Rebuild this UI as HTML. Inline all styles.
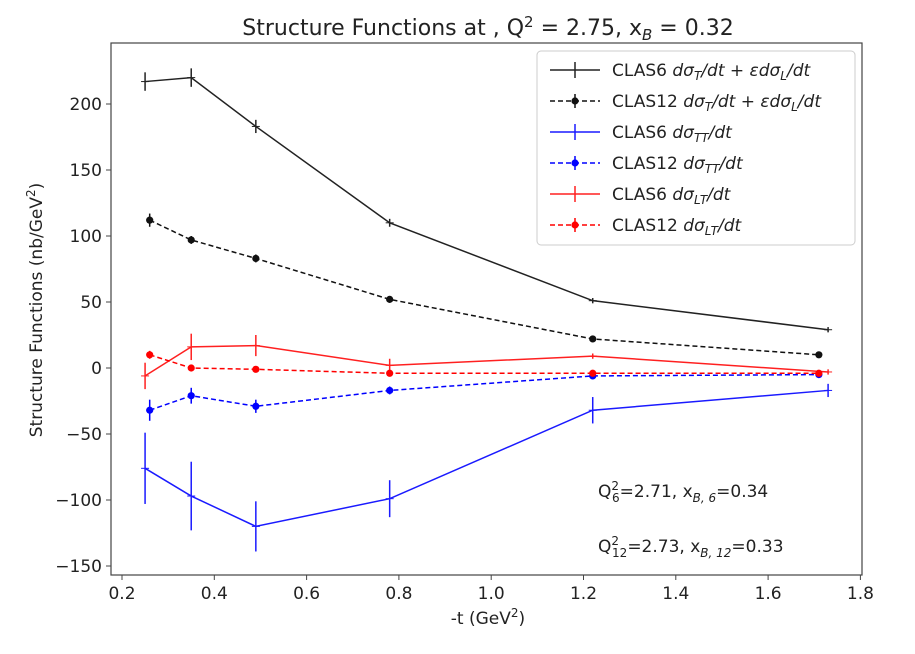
<!DOCTYPE html>
<html><head><meta charset="utf-8"><style>
body{margin:0;background:#fff;font-family:"Liberation Sans","DejaVu Sans",sans-serif}
svg text{font-family:"DejaVu Sans","Liberation Sans",sans-serif;fill:#222}
</style></head><body>
<svg id="c" width="915" height="649"></svg>
<script>
const xC6=[0.25,0.35,0.49,0.78,1.22,1.73];
const xC12=[0.26,0.35,0.49,0.78,1.22,1.71];
const unpol6=[217,220,183,110,51,29];
const unpol6Err=[7,7,5,3,2,2];
const unpol12=[112,97,83,52,22,10];
const unpol12Err=[5,3,3,2,2,2];
const tt6=[-76,-97,-120,-99,-32,-17];
const tt6Err=[27,26,19,14,10,5];
const tt12=[-32,-21,-29,-17,-6,-5];
const tt12Err=[8,6,5,3,2,2];
const lt6=[-6,16,17,2,9,-3];
const lt6Err=[10,10,8,5,2,2];
const lt12=[10,0,-1,-4,-4,-4];
const lt12Err=[3,2,2,2,2,2];
const xTicks=[0.2,0.4,0.6,0.8,1.0,1.2,1.4,1.6,1.8];
const yTicks=[-150,-100,-50,0,50,100,150,200];

const L=111,R=862,T=43,B=575;
const X=v=>122+(v-0.2)*461.5;
const Y=v=>368-v*1.32;
const svg=document.getElementById('c');
const NS='http://www.w3.org/2000/svg';
function mk(t,a,p){const e=document.createElementNS(NS,t);for(const k in a)e.setAttribute(k,a[k]);(p||svg).appendChild(e);return e;}

const frame=mk('rect',{x:L,y:T,width:R-L,height:B-T,fill:'none',stroke:'#444','stroke-width':1.2});



xTicks.forEach(v=>{
  mk('line',{x1:X(v),x2:X(v),y1:B,y2:B+5,stroke:'#444'});
  const t=mk('text',{x:X(v),y:B+24,'font-size':17,'text-anchor':'middle'});t.textContent=v.toFixed(1);
  
  
});
yTicks.forEach(v=>{
  mk('line',{x1:L-5,x2:L,y1:Y(v),y2:Y(v),stroke:'#444'});
  const t=mk('text',{x:L-9,y:Y(v)+6,'font-size':17,'text-anchor':'end'});t.textContent=v<0?'\u2212'+(-v):v;
  
  
});

const series=[
 {name:'clas6-unpolarized',x:xC6,y:unpol6,e:unpol6Err,c:'#222',dash:null,dot:false},
 {name:'clas12-unpolarized',x:xC12,y:unpol12,e:unpol12Err,c:'#111',dash:'5,3',dot:true},
 {name:'clas6-tt',x:xC6,y:tt6,e:tt6Err,c:'#1a1aff',dash:null,dot:false},
 {name:'clas12-tt',x:xC12,y:tt12,e:tt12Err,c:'#0000ff',dash:'5,3',dot:true},
 {name:'clas6-lt',x:xC6,y:lt6,e:lt6Err,c:'#ff2020',dash:null,dot:false},
 {name:'clas12-lt',x:xC12,y:lt12,e:lt12Err,c:'#ff0000',dash:'5,3',dot:true}
];
series.forEach(s=>{
  const g=mk('g',{});
  
  
  const a={points:s.x.map((v,i)=>X(v)+','+Y(s.y[i])).join(' '),fill:'none',stroke:s.c,'stroke-width':1.5};
  if(s.dash)a['stroke-dasharray']=s.dash;
  mk('polyline',a,g);
  s.x.forEach((v,i)=>{
    mk('line',{x1:X(v),x2:X(v),y1:Y(s.y[i]+s.e[i]),y2:Y(s.y[i]-s.e[i]),stroke:s.c,'stroke-width':1.5},g);
    if(s.dot){const d=mk('circle',{cx:X(v),cy:Y(s.y[i]),r:3.6,fill:s.c},g);
      
      }
    else mk('line',{x1:X(v)-4,x2:X(v)+4,y1:Y(s.y[i]),y2:Y(s.y[i]),stroke:s.c,'stroke-width':1},g);
  });
});
</script>
<svg width="915" height="649" style="position:absolute;left:0;top:0">
<text x="488" y="35" font-size="22" text-anchor="middle">Structure Functions at , Q<tspan dy="-8" font-size="15">2</tspan><tspan dy="8"> = 2.75, x</tspan><tspan dy="5" font-size="15" font-style="italic">B</tspan><tspan dy="-5"> = 0.32</tspan></text>
<text x="488" y="624" font-size="17" text-anchor="middle">-t (GeV<tspan dy="-7" font-size="12">2</tspan><tspan dy="7">)</tspan></text>
<text transform="translate(42,310) rotate(-90)" font-size="17" text-anchor="middle">Structure Functions (nb/GeV<tspan dy="-7" font-size="12">2</tspan><tspan dy="7">)</tspan></text>
<text x="598" y="497" font-size="17">Q<tspan dy="-7" font-size="12">2</tspan><tspan dx="-7" dy="12" font-size="12">6</tspan><tspan dy="-5">=2.71, x</tspan><tspan dy="5" font-size="12" font-style="italic">B, 6</tspan><tspan dy="-5">=0.34</tspan></text>
<text x="598" y="552" font-size="17">Q<tspan dy="-7" font-size="12">2</tspan><tspan dx="-7" dy="12" font-size="12">12</tspan><tspan dy="-5">=2.73, x</tspan><tspan dy="5" font-size="12" font-style="italic">B, 12</tspan><tspan dy="-5">=0.33</tspan></text>
<g>
<rect x="537" y="51" width="318" height="194" rx="4" fill="#fff" stroke="#ccc"/>
<g font-size="17">
<g><line x1="550" x2="600" y1="70" y2="70" stroke="#222" stroke-width="1.5"/><line x1="575" x2="575" y1="62" y2="78" stroke="#222" stroke-width="1.5"/><text x="612" y="76">CLAS6 <tspan font-style="italic">dσ</tspan><tspan font-size="12" dy="4" font-style="italic">T</tspan><tspan dy="-4" font-style="italic">/dt + εdσ</tspan><tspan font-size="12" dy="4" font-style="italic">L</tspan><tspan dy="-4" font-style="italic">/dt</tspan></text></g>
<g><line x1="550" x2="600" y1="101" y2="101" stroke="#111" stroke-width="1.5" stroke-dasharray="5,3"/><circle cx="575" cy="101" r="3.6" fill="#111"/><line x1="575" x2="575" y1="94" y2="108" stroke="#111" stroke-width="1.5"/><text x="612" y="107">CLAS12 <tspan font-style="italic">dσ</tspan><tspan font-size="12" dy="4" font-style="italic">T</tspan><tspan dy="-4" font-style="italic">/dt + εdσ</tspan><tspan font-size="12" dy="4" font-style="italic">L</tspan><tspan dy="-4" font-style="italic">/dt</tspan></text></g>
<g><line x1="550" x2="600" y1="132" y2="132" stroke="#1a1aff" stroke-width="1.5"/><line x1="575" x2="575" y1="124" y2="140" stroke="#1a1aff" stroke-width="1.5"/><text x="612" y="138">CLAS6 <tspan font-style="italic">dσ</tspan><tspan font-size="12" dy="4" font-style="italic">TT</tspan><tspan dy="-4" font-style="italic">/dt</tspan></text></g>
<g><line x1="550" x2="600" y1="163" y2="163" stroke="#00f" stroke-width="1.5" stroke-dasharray="5,3"/><circle cx="575" cy="163" r="3.6" fill="#00f"/><line x1="575" x2="575" y1="156" y2="170" stroke="#00f" stroke-width="1.5"/><text x="612" y="169">CLAS12 <tspan font-style="italic">dσ</tspan><tspan font-size="12" dy="4" font-style="italic">TT</tspan><tspan dy="-4" font-style="italic">/dt</tspan></text></g>
<g><line x1="550" x2="600" y1="194" y2="194" stroke="#ff2020" stroke-width="1.5"/><line x1="575" x2="575" y1="186" y2="202" stroke="#ff2020" stroke-width="1.5"/><text x="612" y="200">CLAS6 <tspan font-style="italic">dσ</tspan><tspan font-size="12" dy="4" font-style="italic">LT</tspan><tspan dy="-4" font-style="italic">/dt</tspan></text></g>
<g><line x1="550" x2="600" y1="225" y2="225" stroke="#f00" stroke-width="1.5" stroke-dasharray="5,3"/><circle cx="575" cy="225" r="3.6" fill="#f00"/><line x1="575" x2="575" y1="218" y2="232" stroke="#f00" stroke-width="1.5"/><text x="612" y="231">CLAS12 <tspan font-style="italic">dσ</tspan><tspan font-size="12" dy="4" font-style="italic">LT</tspan><tspan dy="-4" font-style="italic">/dt</tspan></text></g>
</g></g>
</svg>
</body></html>
